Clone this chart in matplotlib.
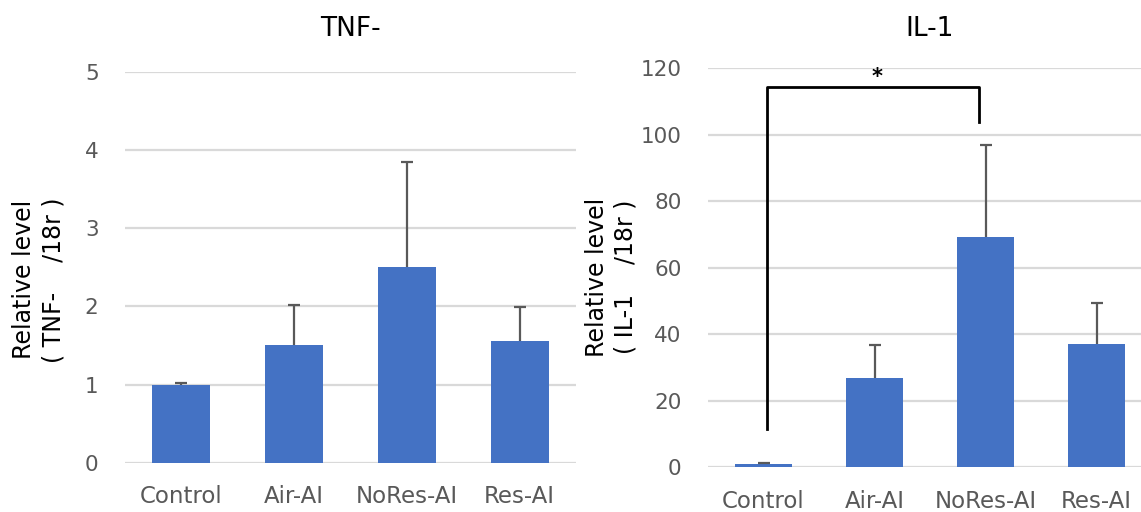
import matplotlib
matplotlib.use('Agg')
import matplotlib.pyplot as plt

# data
groups = ['Control', 'Air-AI', 'NoRes-AI', 'Res-AI']
tnf_mean = [1.0, 1.50, 2.50, 1.56]
tnf_err = [0.02, 0.52, 1.35, 0.43]
il1_mean = [1.0, 26.8, 69.3, 37.0]
il1_err = [0.3, 9.9, 27.6, 12.4]

bar_color = '#4472C4'
err_color = '#595959'
grid_color = '#D9D9D9'
tick_color = '#595959'

plt.rcParams['font.family'] = ['DejaVu Sans']

W, H = 1141, 512
fig = plt.figure(figsize=(W / 100, H / 100), dpi=100)


def pix_axes(left, right, bottom, top):
    # axes placed from pixel edges of the reference picture
    return fig.add_axes([left / W, (H - bottom) / H, (right - left) / W, (bottom - top) / H])


def draw_panel(ax, mean, err, ymax, step, title, ylabel, title_pad, label_xy):
    x = list(range(len(groups)))
    ax.bar(x, mean, width=0.515, color=bar_color, zorder=3)
    # upper error only: stem plus a single cap on top
    tops = [m + e for m, e in zip(mean, err)]
    ax.vlines(x, mean, tops, color=err_color, linewidth=1.6, zorder=4)
    ax.plot(x, tops, linestyle='none', marker='_', markersize=9,
            markeredgewidth=1.6, color=err_color, zorder=4)
    ax.set_xlim(-0.5, len(groups) - 0.5)
    ax.set_ylim(0, ymax)
    ax.set_yticks([i * step for i in range(int(ymax / step) + 1)])
    ax.set_xticks(x)
    ax.set_xticklabels(groups)
    ax.grid(axis='y', color=grid_color, linewidth=1.6, zorder=0)
    for s in ax.spines.values():
        s.set_visible(False)
    ax.tick_params(length=0, labelsize=15.5, colors=tick_color)
    ax.tick_params(axis='y', pad=19)
    ax.tick_params(axis='x', labelsize=16.5, pad=16)
    ax.set_title(title, fontsize=19, color='black', pad=title_pad)
    ax.set_ylabel(ylabel, fontsize=17, color='black', linespacing=1.25)
    ax.yaxis.set_label_coords(*label_xy)


ax1 = pix_axes(125, 576, 462.7, 72.0)
draw_panel(ax1, tnf_mean, tnf_err, 5, 1, 'TNF-', 'Relative level\n( TNF-    /18r )',
           26, (-0.133, 0.468))

ax2 = pix_axes(708, 1152, 467.3, 68.3)
draw_panel(ax2, il1_mean, il1_err, 120, 20, 'IL-1', 'Relative level\n( IL-1    /18r )',
           23, (-0.158, 0.477))

# significance bracket Control vs NoRes-AI
ax2.plot([0.03, 0.03, 1.94, 1.94], [11.5, 114.4, 114.4, 103.9],
         color='black', linewidth=2, zorder=5, clip_on=False)
ax2.text(1.02, 117.5, '*', ha='center', va='center', fontsize=15,
         fontweight='bold', color='black')

fig.savefig('out.png', dpi=100)
